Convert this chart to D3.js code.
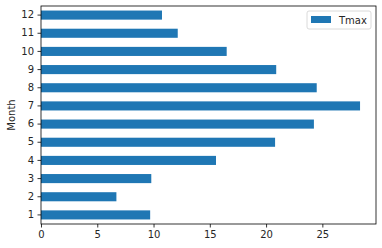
<!DOCTYPE html>
<html>
<head>
<script src="https://cdnjs.cloudflare.com/ajax/libs/d3/7.8.5/d3.min.js"></script>
<style>
  body { margin: 0; background: #fff; }
  text { font-family: "DejaVu Sans", sans-serif; font-size: 10px; fill: #262626; }
</style>
</head>
<body>
<div id="chart"></div>
<script>
const months = [1, 2, 3, 4, 5, 6, 7, 8, 9, 10, 11, 12];
const tmax = [9.7, 6.7, 9.8, 15.55, 20.8, 24.25, 28.35, 24.5, 20.9, 16.5, 12.15, 10.75];
const xTicks = [0, 5, 10, 15, 20, 25];

const W = 382, H = 248;
const m = { left: 41, right: 6, top: 6, bottom: 24 };

const svg = d3.select('#chart').append('svg')
    .attr('width', W).attr('height', H);

const x = d3.scaleLinear()
    .domain([0, d3.max(tmax) * 1.05])
    .range([m.left, W - m.right]);

const y = d3.scaleBand()
    .domain(months.slice().reverse())
    .range([m.top, H - m.bottom])
    .paddingInner(0.5).paddingOuter(0.25);

// bars
svg.append('g').selectAll('rect')
    .data(months)
    .join('rect')
    .attr('x', x(0))
    .attr('y', d => y(d))
    .attr('width', (d, i) => x(tmax[i]) - x(0))
    .attr('height', y.bandwidth())
    .attr('fill', '#1f77b4');

// axes
const xAxis = svg.append('g')
    .attr('transform', `translate(0,${H - m.bottom})`)
    .call(d3.axisBottom(x).tickValues(xTicks).tickSize(3.5).tickPadding(3.5));
const yAxis = svg.append('g')
    .attr('transform', `translate(${m.left},0)`)
    .call(d3.axisLeft(y).tickSize(3.5).tickPadding(3.5));
[xAxis, yAxis].forEach(a => {
    a.select('.domain').remove();
    a.selectAll('line').attr('stroke', '#000').attr('stroke-width', 0.8);
    a.selectAll('text').attr('font-size', 10).attr('fill', '#262626').attr('font-family', 'DejaVu Sans');
});

// frame
svg.append('rect')
    .attr('x', m.left).attr('y', m.top)
    .attr('width', W - m.left - m.right).attr('height', H - m.top - m.bottom)
    .attr('fill', 'none').attr('stroke', '#000').attr('stroke-width', 0.8);

// y label
svg.append('text')
    .attr('transform', `translate(15,${(m.top + H - m.bottom) / 2}) rotate(-90)`)
    .attr('text-anchor', 'middle')
    .text('Month');

// legend
const lg = svg.append('g').attr('transform', 'translate(307,11)');
lg.append('rect').attr('width', 64).attr('height', 18).attr('rx', 2)
    .attr('fill', '#fff').attr('stroke', '#d0d0d0').attr('stroke-width', 0.8);
lg.append('rect').attr('x', 4).attr('y', 5).attr('width', 20).attr('height', 7).attr('fill', '#1f77b4');
lg.append('text').attr('x', 32).attr('y', 13).text('Tmax');
</script>
</body>
</html>
